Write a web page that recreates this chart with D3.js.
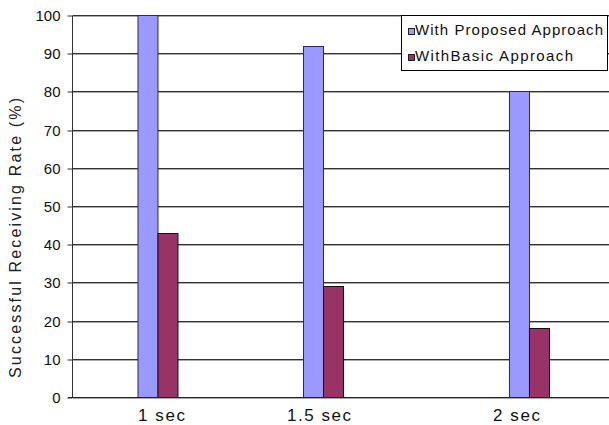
<!DOCTYPE html>
<html>
<head>
<meta charset="utf-8">
<script src="https://cdn.jsdelivr.net/npm/d3@7"></script>
<style>
  html, body { margin: 0; padding: 0; background: #fff; }
  svg { display: block; font-family: Arial, "Liberation Sans", sans-serif; }
</style>
</head>
<body>
<svg id="chart" width="609" height="425"></svg>
<script>
// Receiving rate by sending interval
const categories = ["1 sec", "1.5 sec", "2 sec"];
const seriesNames = ["With Proposed Approach", "WithBasic Approach"];
const proposedValues = [100, 92, 80];
const basicValues = [43, 29, 18];
const yTicks = [0, 10, 20, 30, 40, 50, 60, 70, 80, 90, 100];
const yTitle = "Successful Receiving Rate (%)";

const colors = ["#9999FF", "#993366"];

// Layout
const W = 609, H = 425;
const plot = { left: 73, right: 609, top: 15, bottom: 397 };
// group centres and label centres across the plot width (fractions)
const groupFrac = [0.1576, 0.4664, 0.8507];
const labelFrac = [0.1651, 0.4590, 0.8274];
const barW = 20.5;

const svg = d3.select("#chart");
const pw = plot.right - plot.left;

const y = d3.scaleLinear().domain([0, 100]).range([plot.bottom, plot.top]);
const xGroup = d3.scaleOrdinal(categories, groupFrac.map(f => plot.left + f * pw));
const xLabel = d3.scaleOrdinal(categories, labelFrac.map(f => plot.left + f * pw));
const xSeries = d3.scaleBand().domain(seriesNames).range([-barW, barW]).padding(0);

const py = v => Math.round(y(v));

// Gridlines (dark line with lighter shade beneath)
const grid = svg.append("g");
grid.selectAll("line.g1").data(yTicks.filter(t => t > 0)).join("line")
  .attr("x1", plot.left).attr("x2", plot.right)
  .attr("y1", d => py(d) + 0.5).attr("y2", d => py(d) + 0.5)
  .attr("stroke", "#333").attr("stroke-width", 1);
grid.selectAll("line.g2").data(yTicks.filter(t => t > 0)).join("line")
  .attr("x1", plot.left).attr("x2", plot.right)
  .attr("y1", d => py(d) + 1.5).attr("y2", d => py(d) + 1.5)
  .attr("stroke", "#aaa").attr("stroke-width", 1);

// Bars
const rows = categories.map((c, i) => ({ cat: c, vals: [proposedValues[i], basicValues[i]] }));
const groups = svg.append("g").selectAll("g").data(rows).join("g")
  .attr("transform", d => `translate(${xGroup(d.cat)},0)`);
groups.selectAll("rect")
  .data(d => d.vals.map((v, k) => ({ name: seriesNames[k], v, k })))
  .join("rect")
  .attr("x", d => Math.round(xSeries(d.name)) + 0.5)
  .attr("y", d => py(d.v) + 0.5)
  .attr("width", d => Math.round(xSeries.bandwidth()) - 1)
  .attr("height", d => py(0) - py(d.v))
  .attr("fill", d => colors[d.k])
  .attr("stroke", d => d.k === 0 ? "#2a2a55" : "#111")
  .attr("stroke-width", 1);

// Y axis
const yAxis = svg.append("g").attr("transform", `translate(${plot.left - 0.5},0.5)`)
  .call(d3.axisLeft(y).tickValues(yTicks).tickSize(5).tickPadding(7).tickFormat(d3.format("d")));
yAxis.select(".domain").attr("stroke", "#333").attr("d", `M0,${plot.top}V${plot.bottom}`);
yAxis.selectAll(".tick line").attr("stroke", "#333").attr("y1", 0).attr("y2", 0)
  .attr("transform", d => `translate(0,${py(d) - y(d)})`);
yAxis.selectAll(".tick text")
  .attr("transform", d => `translate(0,${py(d) - y(d)})`)
  .attr("font-size", 15).attr("fill", "#111")
  .attr("font-family", "Arial, 'Liberation Sans', sans-serif");

// X axis line
svg.append("line")
  .attr("x1", plot.left - 5).attr("x2", plot.right)
  .attr("y1", py(0) + 0.5).attr("y2", py(0) + 0.5)
  .attr("stroke", "#222").attr("stroke-width", 1);
svg.append("line")
  .attr("x1", plot.left).attr("x2", plot.right)
  .attr("y1", py(0) + 1.5).attr("y2", py(0) + 1.5)
  .attr("stroke", "#aaa").attr("stroke-width", 1);

// X labels
const labelW = { "1 sec": 47, "1.5 sec": 64, "2 sec": 47 };
svg.append("g").selectAll("text").data(categories).join("text")
  .attr("x", d => xLabel(d)).attr("y", 421)
  .attr("text-anchor", "middle")
  .attr("font-size", 17).attr("fill", "#111")
  .attr("textLength", d => labelW[d]).attr("lengthAdjust", "spacing")
  .text(d => d);

// Y title
svg.append("text")
  .attr("transform", `translate(21,238) rotate(-90)`)
  .attr("text-anchor", "middle")
  .attr("font-size", 16).attr("fill", "#222")
  .attr("textLength", 280).attr("lengthAdjust", "spacing")
  .text(yTitle);

// Legend
const leg = svg.append("g");
leg.append("rect")
  .attr("x", 401.5).attr("y", 15.5).attr("width", 206).attr("height", 55)
  .attr("fill", "#fff").attr("stroke", "#000").attr("stroke-width", 1);
const legRows = leg.selectAll("g").data(seriesNames).join("g")
  .attr("transform", (d, i) => `translate(0,${i * 26})`);
legRows.append("rect")
  .attr("x", 408.5).attr("y", 28.5).attr("width", 6).attr("height", 6)
  .attr("fill", (d, i) => colors[i]).attr("stroke", "#222").attr("stroke-width", 1);
const legW = [188, 158];
legRows.append("text")
  .attr("x", 415).attr("y", 35)
  .attr("font-size", 15).attr("fill", "#111")
  .attr("textLength", (d, i) => legW[i]).attr("lengthAdjust", "spacing")
  .text(d => d);
</script>
</body>
</html>
